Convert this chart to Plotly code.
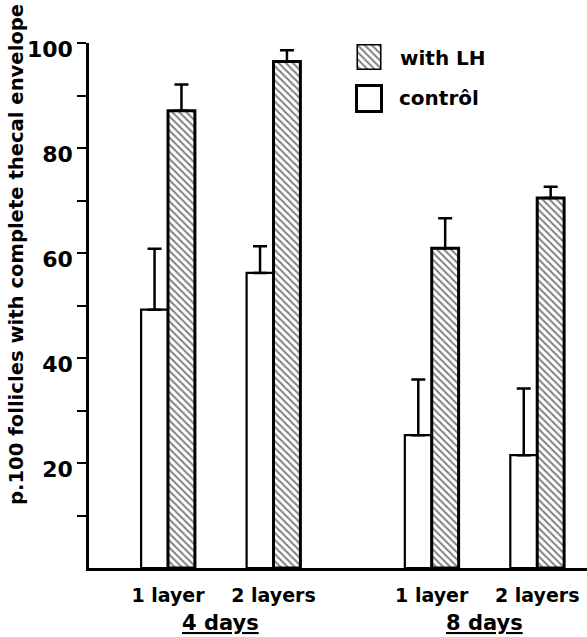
import plotly.graph_objects as go

# ---- data ----
x_pos = [1, 2, 3.5, 4.5]
layer_labels = ["1 layer", "2 layers", "1 layer", "2 layers"]
control_vals = [49.2, 56.2, 25.3, 21.5]
control_err = [11.6, 5.1, 10.6, 12.7]
lh_vals = [87.1, 96.5, 60.9, 70.5]
lh_err = [5.0, 2.1, 5.7, 2.1]
y_tick_vals = [10, 20, 30, 40, 50, 60, 70, 80, 90, 100]
y_tick_text = ["", "20", "", "40", "", "60", "", "80", "", "100"]
day_groups = ["4 days", "8 days"]
day_centers = [1.5, 4.0]

FONT = "DejaVu Sans"
BLACK = "black"

fig = go.Figure()

fig.add_trace(go.Bar(
    x=x_pos, y=control_vals, name="contrôl",
    marker=dict(color="white", line=dict(color=BLACK, width=2.2)),
    error_y=dict(type="data", symmetric=False, array=control_err,
                 arrayminus=[0] * len(control_err),
                 color=BLACK, thickness=2.5, width=7),
    showlegend=False,
))
fig.add_trace(go.Bar(
    x=x_pos, y=lh_vals, name="with LH",
    marker=dict(color="white", line=dict(color=BLACK, width=3),
                pattern=dict(shape="\\", fgcolor=BLACK, bgcolor="white",
                             size=5, solidity=0.4)),
    error_y=dict(type="data", symmetric=False, array=lh_err,
                 arrayminus=[0] * len(lh_err),
                 color=BLACK, thickness=2.5, width=7),
    showlegend=False,
))

# legend swatch (hatched) drawn as a bar in a small hidden subplot
fig.add_trace(go.Bar(
    x=[0], y=[26], base=[0], width=[1], offset=-0.5, xaxis="x2", yaxis="y2",
    marker=dict(color="white", line=dict(color=BLACK, width=3),
                pattern=dict(shape="\\", fgcolor=BLACK, bgcolor="white",
                             size=5, solidity=0.4)),
    showlegend=False, hoverinfo="skip", cliponaxis=False,
))

W, H = 587, 637
ml, mr, mt, mb = 89, 0, 43, 69
pw = W - ml - mr
ph = H - mt - mb


def px_x(px):
    return (px - ml) / pw


def px_y(py):
    return (H - mb - py) / ph


fig.update_layout(
    width=W, height=H,
    margin=dict(l=ml, r=mr, t=mt, b=mb, pad=0),
    paper_bgcolor="white", plot_bgcolor="white",
    barmode="group", bargap=0.49, bargroupgap=0,
    font=dict(family=FONT, color=BLACK, size=19, weight="bold"),
    xaxis=dict(
        range=[0.251, 4.972], tickvals=x_pos, ticktext=layer_labels,
        showgrid=False, zeroline=False, showline=True, linecolor=BLACK,
        linewidth=2.5, ticks="", ticklabelstandoff=8,
        tickfont=dict(family=FONT, size=19, weight="bold"),
    ),
    yaxis=dict(
        range=[0, 100], tickvals=y_tick_vals, ticktext=y_tick_text,
        showgrid=False, zeroline=False, showline=True, linecolor=BLACK,
        linewidth=2.5, ticks="outside", ticklen=9, tickwidth=2,
        tickcolor=BLACK, ticklabelshift=6, ticklabelstandoff=0,
        tickfont=dict(family=FONT, size=22, weight="bold"),
    ),
    xaxis2=dict(domain=[px_x(356.5), px_x(381.5)], range=[-0.5, 0.5],
                visible=False, anchor="y2", fixedrange=True),
    yaxis2=dict(domain=[px_y(70), px_y(44)], range=[0, 26],
                visible=False, anchor="x2", fixedrange=True),
    shapes=[dict(type="rect", xref="paper", yref="paper",
                 x0=px_x(356.5), x1=px_x(381.5),
                 y0=px_y(111.5), y1=px_y(85.5),
                 fillcolor="white", line=dict(color=BLACK, width=3))],
)

annotations = [
    dict(text="p.100 follicles with complete thecal envelope",
         xref="paper", yref="paper", x=px_x(16), y=px_y(255),
         xanchor="center", yanchor="middle", textangle=-90, showarrow=False,
         font=dict(family=FONT, size=19.6, weight="bold")),
    dict(text="with LH", xref="paper", yref="paper",
         x=px_x(398), y=px_y(58), xanchor="left", yanchor="middle",
         showarrow=False, font=dict(family=FONT, size=20, weight="bold")),
    dict(text="contrôl", xref="paper", yref="paper",
         x=px_x(397), y=px_y(98), xanchor="left", yanchor="middle",
         showarrow=False, font=dict(family=FONT, size=20, weight="bold")),
]
for label, cx in zip(day_groups, day_centers):
    annotations.append(dict(
        text="<u>" + label + "</u>", xref="x", yref="paper", x=cx,
        y=px_y(623), xanchor="center", yanchor="middle", showarrow=False,
        font=dict(family=FONT, size=21, weight="bold")))
fig.update_layout(annotations=annotations)

fig.write_html(
    "out.html",
    config={"displayModeBar": False},
    post_script="document.body.style.margin='0';"
                "document.body.style.overflow='hidden';",
)
